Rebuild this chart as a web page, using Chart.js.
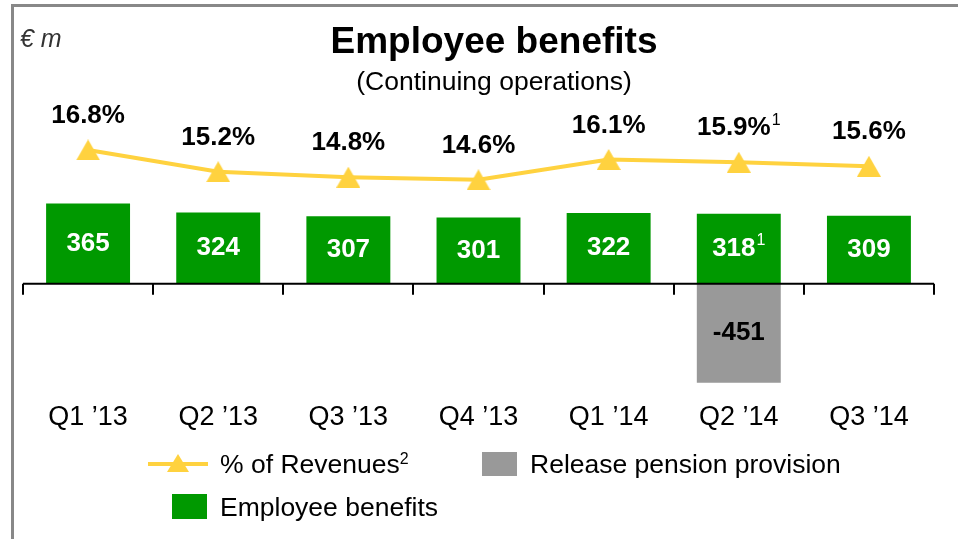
<!DOCTYPE html>
<html>
<head>
<meta charset="utf-8">
<script src="https://cdn.jsdelivr.net/npm/chart.js@4/dist/chart.umd.min.js"></script>
<style>
  html, body { margin: 0; padding: 0; background: #fff; }
  body { width: 958px; height: 539px; position: relative; overflow: hidden; font-family: Arial, "Liberation Sans", sans-serif; color: #000; }
  #frame { position: absolute; left: 11px; top: 4px; width: 1000px; height: 600px; border-left: 3px solid #888; border-top: 3px solid #888; }
  #chart-wrap { position: absolute; left: 0; top: 0; width: 958px; height: 539px; }
  .txt { position: absolute; white-space: nowrap; }
  #unit { left: 20px; top: 24px; font-size: 25px; font-style: italic; color: #333; }
  #title { left: 0; width: 988px; text-align: center; top: 20px; font-size: 37px; font-weight: bold; }
  #subtitle { left: 0; width: 988px; text-align: center; top: 66px; font-size: 26.5px; }
  .leg-text { font-size: 26.5px; line-height: 30px; }
  .leg-text sup { font-size: 16px; vertical-align: 9px; line-height: 0; }
  .box { position: absolute; }
</style>
</head>
<body>
<div id="frame"></div>
<div id="chart-wrap"><canvas id="chart" width="958" height="539"></canvas></div>
<div class="txt" id="unit">€ m</div>
<div class="txt" id="title">Employee benefits</div>
<div class="txt" id="subtitle">(Continuing operations)</div>
<div id="legend"></div>

<script>
// ====== データ ======
const quarters = ['Q1 ’13', 'Q2 ’13', 'Q3 ’13', 'Q4 ’13', 'Q1 ’14', 'Q2 ’14', 'Q3 ’14'];
const benefits = [365, 324, 307, 301, 322, 318, 309];
const benefitNotes = ['', '', '', '', '', '1', ''];
const pensionRelease = [null, null, null, null, null, -451, null];
const revenuePct = [16.8, 15.2, 14.8, 14.6, 16.1, 15.9, 15.6];
const pctNotes = ['', '', '', '', '', '1', ''];

const GREEN = '#009900';
const GRAY = '#999999';
const YELLOW = '#FFD23F';
const FONT = 'Arial, "Liberation Sans", sans-serif';

// 三角マーカー（中心に揃えたもの）
function makeTriangle(w, h, color) {
    const c = document.createElement('canvas');
    c.width = w;
    c.height = h;
    const g = c.getContext('2d');
    g.fillStyle = color;
    g.beginPath();
    g.moveTo(w / 2, 0);
    g.lineTo(w, h);
    g.lineTo(0, h);
    g.closePath();
    g.fill();
    return c;
}
const triangleMarker = makeTriangle(24, 21, YELLOW);

// ゼロ線と区切りの目盛り
const zeroAxisPlugin = {
    id: 'zeroAxis',
    afterDatasetsDraw(chart) {
        const ctx = chart.ctx;
        const area = chart.chartArea;
        const y0 = chart.scales.y.getPixelForValue(0);
        const step = (area.right - area.left) / quarters.length;
        ctx.save();
        ctx.strokeStyle = '#000';
        ctx.lineWidth = 2;
        ctx.beginPath();
        ctx.moveTo(area.left, y0);
        ctx.lineTo(area.right, y0);
        for (let i = 0; i <= quarters.length; i++) {
            const x = Math.round(area.left + i * step);
            ctx.moveTo(x, y0);
            ctx.lineTo(x, y0 + 11);
        }
        ctx.stroke();
        ctx.restore();
    }
};

// 数値ラベル（脚注の上付き文字つき）
function drawNoted(ctx, text, note, x, y, size, color) {
    ctx.font = `bold ${size}px ${FONT}`;
    const w1 = ctx.measureText(text).width;
    ctx.font = `${Math.round(size * 0.6)}px ${FONT}`;
    const w2 = note ? ctx.measureText(note).width + 1 : 0;
    const start = x - (w1 + w2) / 2;
    ctx.fillStyle = color;
    ctx.textAlign = 'left';
    ctx.textBaseline = 'middle';
    ctx.font = `bold ${size}px ${FONT}`;
    ctx.fillText(text, start, y);
    if (note) {
        ctx.font = `${Math.round(size * 0.6)}px ${FONT}`;
        ctx.fillText(note, start + w1 + 1, y - size * 0.3);
    }
}

const valueLabelPlugin = {
    id: 'valueLabels',
    afterDatasetsDraw(chart) {
        const ctx = chart.ctx;
        ctx.save();
        chart.data.datasets.forEach((ds, di) => {
            const meta = chart.getDatasetMeta(di);
            meta.data.forEach((el, i) => {
                const v = ds.data[i];
                if (v === null || v === undefined) return;
                if (ds.type === 'line') {
                    drawNoted(ctx, v.toFixed(1) + '%', pctNotes[i], el.x, el.y - 34, 26, '#000');
                } else {
                    const cy = (el.y + el.base) / 2;
                    const color = v < 0 ? '#000' : '#fff';
                    const note = v < 0 ? '' : benefitNotes[i];
                    drawNoted(ctx, String(v), note, el.x, cy, 26, color);
                }
            });
        });
        ctx.restore();
    }
};

const chart = new Chart(document.getElementById('chart'), {
    data: {
        labels: quarters,
        datasets: [
            {
                type: 'line',
                label: '% of Revenues',
                data: revenuePct,
                yAxisID: 'y2',
                borderColor: YELLOW,
                backgroundColor: YELLOW,
                borderWidth: 4,
                pointStyle: triangleMarker,
                pointRadius: 12,
                tension: 0,
                order: 0
            },
            {
                type: 'bar',
                label: 'Employee benefits',
                data: benefits,
                yAxisID: 'y',
                backgroundColor: GREEN,
                borderWidth: 0,
                grouped: false,
                categoryPercentage: 1,
                barPercentage: 0.645,
                order: 1
            },
            {
                type: 'bar',
                label: 'Release pension provision',
                data: pensionRelease,
                yAxisID: 'y',
                backgroundColor: GRAY,
                borderWidth: 0,
                grouped: false,
                categoryPercentage: 1,
                barPercentage: 0.645,
                order: 2
            }
        ]
    },
    options: {
        responsive: false,
        animation: false,
        events: [],
        layout: { padding: { left: 23, right: 24, top: 100, bottom: 102 } },
        plugins: {
            legend: { display: false },
            tooltip: { enabled: false }
        },
        scales: {
            x: {
                grid: { display: false, drawTicks: false },
                border: { display: false },
                ticks: {
                    color: '#000',
                    font: { family: FONT, size: 27 },
                    padding: 3,
                    autoSkip: false,
                    maxRotation: 0
                }
            },
            y: { display: false, min: -523, max: 836 },
            y2: { display: false, min: -1.51, max: 20.48 }
        }
    },
    plugins: [zeroAxisPlugin, valueLabelPlugin]
});

// ====== 凡例 ======
function renderLegend() {
    const sets = chart.data.datasets;
    const el = document.getElementById('legend');
    el.innerHTML = `
        <div class="box" style="left:148px; top:462px; width:60px; height:4px; background:${sets[0].borderColor};"></div>
        <div class="box" style="left:167px; top:454px; width:0; height:0; border-left:11px solid transparent; border-right:11px solid transparent; border-bottom:18px solid ${sets[0].borderColor};"></div>
        <div class="txt leg-text" style="left:220px; top:449px;">${sets[0].label}<sup>2</sup></div>
        <div class="box" style="left:482px; top:452px; width:35px; height:24px; background:${sets[2].backgroundColor};"></div>
        <div class="txt leg-text" style="left:530px; top:449px;">${sets[2].label}</div>
        <div class="box" style="left:172px; top:494px; width:35px; height:25px; background:${sets[1].backgroundColor};"></div>
        <div class="txt leg-text" style="left:220px; top:492px;">${sets[1].label}</div>
    `;
}

renderLegend();
</script>
</body>
</html>
